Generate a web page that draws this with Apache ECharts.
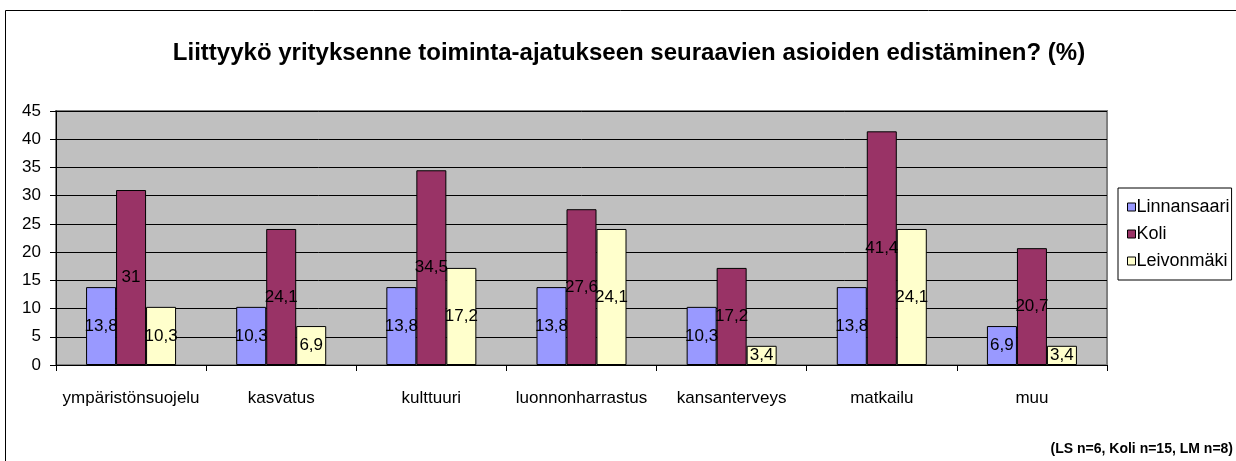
<!DOCTYPE html>
<html>
<head>
<meta charset="utf-8">
<script src="https://cdn.jsdelivr.net/npm/echarts@6/dist/echarts.min.js"></script>
<style>
  html, body { margin: 0; padding: 0; background: #fff; }
  #chart { width: 1236px; height: 461px; }
</style>
</head>
<body>
<div id="chart"></div>
<script>
// kategoriat ja arvot (%)
var categories = ['ympäristönsuojelu', 'kasvatus', 'kulttuuri', 'luonnonharrastus', 'kansanterveys', 'matkailu', 'muu'];
var linnansaari = [13.8, 10.3, 13.8, 13.8, 10.3, 13.8, 6.9];
var koli = [31, 24.1, 34.5, 27.6, 17.2, 41.4, 20.7];
var leivonmaki = [10.3, 6.9, 17.2, 24.1, 3.4, 24.1, 3.4];
var yTicks = [0, 5, 10, 15, 20, 25, 30, 35, 40, 45];

var chart = echarts.init(document.getElementById('chart'));
var FONT = 'Liberation Sans, Arial, sans-serif';

function commaLabel(p) {
    return String(p.value).replace('.', ',');
}

function barSeries(name, data, color) {
    return {
        name: name,
        type: 'bar',
        data: data,
        barWidth: 30,
        barGap: '0%',
        itemStyle: { color: color, borderColor: '#000', borderWidth: 1 },
        label: {
            show: true,
            position: 'inside',
            color: '#000',
            fontSize: 17,
            fontFamily: FONT,
            formatter: commaLabel
        },
        emphasis: { disabled: true }
    };
}

var option = {
    animation: false,
    backgroundColor: '#fff',
    textStyle: { fontFamily: FONT },
    title: {
        text: 'Liittyykö yrityksenne toiminta-ajatukseen seuraavien asioiden edistäminen? (%)',
        left: 624,
        top: 36,
        textAlign: 'center',
        textStyle: { fontSize: 24, fontWeight: 'bold', color: '#000', fontFamily: FONT }
    },
    legend: {
        orient: 'vertical',
        left: 1118,
        top: 188,
        width: 114,
        padding: [10, 2, 10, 9],
        itemGap: 9,
        itemWidth: 8,
        itemHeight: 8,
        icon: 'rect',
        borderColor: '#000',
        borderWidth: 1,
        itemStyle: { borderColor: '#000', borderWidth: 1 },
        textStyle: { fontSize: 18, color: '#000', padding: [0, 0, 0, -4] },
        data: ['Linnansaari', 'Koli', 'Leivonmäki']
    },
    grid: {
        left: 56,
        right: 129,
        top: 111,
        bottom: 96,
        show: true,
        backgroundColor: '#c0c0c0',
        borderColor: '#808080',
        borderWidth: 2
    },
    xAxis: {
        type: 'category',
        data: categories,
        axisLine: { lineStyle: { color: '#000', width: 1 } },
        axisTick: { show: true, length: 6, lineStyle: { color: '#000' } },
        axisLabel: { fontSize: 17, color: '#000', margin: 25, interval: 0 }
    },
    yAxis: {
        type: 'value',
        min: yTicks[0],
        max: yTicks[yTicks.length - 1],
        interval: 5,
        axisLine: { show: true, lineStyle: { color: '#000', width: 1 } },
        axisTick: { show: true, length: 6, lineStyle: { color: '#000' } },
        axisLabel: { fontSize: 17, color: '#000', margin: 15 },
        splitLine: { show: true, lineStyle: { color: '#000', width: 1 } }
    },
    series: [
        barSeries('Linnansaari', linnansaari, '#9999ff'),
        barSeries('Koli', koli, '#993366'),
        barSeries('Leivonmäki', leivonmaki, '#ffffcc')
    ],
    graphic: [
        {
            type: 'polyline',
            shape: { points: [[5.5, 461], [5.5, 10.5], [1236, 10.5]] },
            style: { stroke: '#000', lineWidth: 1, fill: null }
        },
        {
            type: 'text',
            right: 3,
            top: 442,
            style: {
                text: '(LS n=6, Koli n=15, LM n=8)',
                font: 'bold 14px Liberation Sans, Arial, sans-serif',
                fill: '#000'
            }
        }
    ]
};

chart.setOption(option);
</script>
</body>
</html>
